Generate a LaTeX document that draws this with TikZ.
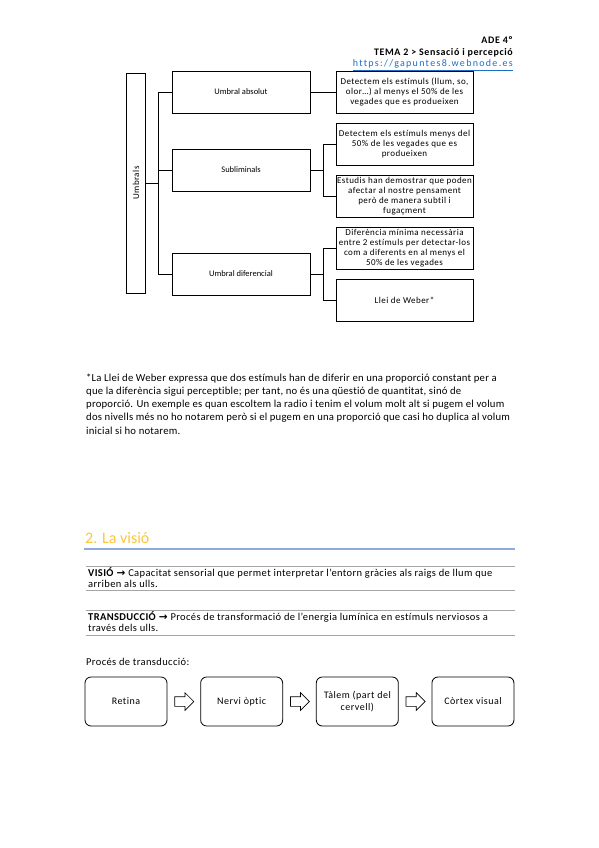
\documentclass[tikz,border=0pt]{standalone}
\usepackage{fontspec}
\setmainfont{Carlito}[Ligatures=NoCommon]
\newfontfamily\symfont{DejaVu Sans}
\usetikzlibrary{positioning,shapes.arrows}
\definecolor{headorange}{RGB}{252,198,60}
\definecolor{ruleblue}{RGB}{142,170,219}
\definecolor{linkblue}{RGB}{30,110,200}
\newcommand{\spaced}[1]{\addfontfeatures{LetterSpace=#1}}
\tikzset{
  box/.style={draw, line width=0.9pt, align=center, inner sep=1pt,
    font=\fontsize{9}{10}\selectfont\spaced{5}},
  leftbox/.style={box, minimum width=138pt, minimum height=42pt,
    font=\fontsize{8.5}{10}\selectfont},
  rightbox/.style={box, minimum width=137pt, minimum height=42pt},
  stepbox/.style={draw, rounded corners=6pt, line width=0.8pt, align=center,
    minimum width=82pt, minimum height=49pt, font=\fontsize{10}{12}\selectfont\spaced{5}},
  blockarrow/.style={draw, single arrow, line width=0.7pt, inner sep=4.5pt,
    minimum height=19pt, single arrow head extend=4pt},
  notetext/.style={anchor=base west, inner sep=0pt, font=\fontsize{10.5}{12}\selectfont\spaced{3.6}},
  headtext/.style={anchor=base east, inner sep=0pt, font=\fontsize{10}{12}\selectfont\bfseries\spaced{6}},
  graybar/.style={draw=gray!70, line width=0.8pt}
}
\begin{document}
\begin{tikzpicture}[x=1pt,y=-1pt]
\useasboundingbox[fill=white] (0,0) rectangle (599,848);

% header
\node[headtext] (ade) at (513,44) {ADE 4º};
\node[headtext] (tema) at (513,56) {TEMA 2 > Sensació i percepció};
\node[anchor=base east, inner sep=0pt, text=linkblue, font=\fontsize{10}{12}\selectfont\spaced{13}] (link) at (513,67) {\underline{https://gapuntes8.webnode.es}};

% mapa dels umbrals
\node[box, rotate=90, minimum width=220pt, minimum height=19pt] (umbrals) at (136,183) {Umbrals};
\node[leftbox] (absolut) at (241,92) {Umbral absolut};
\node[leftbox] (sublim) at (241,170) {Subliminals};
\node[leftbox] (difer) at (241,274) {Umbral diferencial};

\node[rightbox] (r1) at (404.5,92) {Detectem els estímuls (llum, so,\\olor…) al menys el 50\% de les\\vegades que es produeixen};
\node[rightbox] (r2) at (404.5,144) {Detectem els estímuls menys del\\50\% de les vegades que es\\produeixen};
\node[rightbox] (r3) at (404.5,196) {Estudis han demostrar que poden\\afectar al nostre pensament\\però de manera subtil i\\fugaçment};
\node[rightbox] (r4) at (404.5,248) {Diferència mínima necessària\\entre 2 estímuls per detectar-los\\com a diferents en al menys el\\50\% de les vegades};
\node[rightbox] (r5) at (404.5,300) {Llei de Weber*};

\draw[line width=0.9pt] (umbrals.south) -- ++(13,0);
\draw[line width=0.9pt] (absolut.west) -- ++(-13,0) |- (difer.west);
\draw[line width=0.9pt] (sublim.west) -- ++(-13,0);
\draw[line width=0.9pt] (absolut) -- (r1);
\draw[line width=0.9pt] (sublim.east) -- ++(13,0) coordinate (sb);
\draw[line width=0.9pt] (r2.west) -| (sb) |- (r3.west);
\draw[line width=0.9pt] (difer.east) -- ++(13,0) coordinate (db);
\draw[line width=0.9pt] (r4.west) -| (db) |- (r5.west);

% nota
\foreach \t [count=\i] in {
  {*La Llei de Weber expressa que dos estímuls han de diferir en una proporció constant per a},
  {que la diferència sigui perceptible; per tant, no és una qüestió de quantitat, sinó de},
  {proporció. Un exemple es quan escoltem la radio i tenim el volum molt alt si pugem el volum},
  {dos nivells més no ho notarem però si el pugem en una proporció que casi ho duplica al volum},
  {inicial si ho notarem.}}
  \node[notetext, font=\fontsize{10.7}{13}\selectfont\spaced{2}] (note\i) at (86,368+13.2*\i) {\t};

% 2. La visio
\node[anchor=base west, inner sep=0pt, text=headorange, font=\fontsize{16}{18}\selectfont] (title) at (85,543) {2. La visió};
\draw[ruleblue, line width=1.2pt] (84,549) -- (515,549);

\draw[graybar] (86,566) -- (515,566);
\node[notetext] (visio1) at (88,576) {\textbf{VISIÓ} {\symfont\bfseries →} Capacitat sensorial que permet interpretar l'entorn gràcies als raigs de llum que};
\node[notetext] (visio2) at (88,587) {arriben als ulls.};
\draw[graybar] (86,590) -- (515,590);

\draw[graybar] (86,610) -- (515,610);
\node[notetext] (trans1) at (88,620) {\textbf{TRANSDUCCIÓ} {\symfont\bfseries →} Procés de transformació de l'energia lumínica en estímuls nerviosos a};
\node[notetext] (trans2) at (88,631) {través dels ulls.};
\draw[graybar] (86,635) -- (515,635);

% proces de transduccio
\node[notetext] (proces) at (86,665) {Procés de transducció:};
\node[stepbox] (retina) at (126,701.5) {Retina};
\node[blockarrow, right=7pt of retina] (ar1) {};
\node[stepbox, right=6pt of ar1] (nervi) {Nervi òptic};
\node[blockarrow, right=7pt of nervi] (ar2) {};
\node[stepbox, right=6pt of ar2] (talem) {Tàlem (part del\\cervell)};
\node[blockarrow, right=7pt of talem] (ar3) {};
\node[stepbox, right=6pt of ar3] (cortex) {Còrtex visual};
\end{tikzpicture}
\end{document}
